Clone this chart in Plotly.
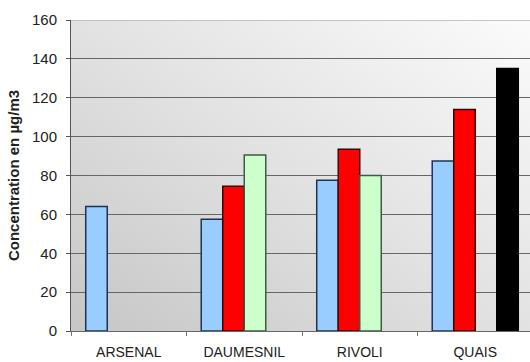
import base64
import plotly.graph_objects as go

# Sites and measured concentrations (µg/m3), one series per bar colour
sites = ["ARSENAL", "DAUMESNIL", "RIVOLI", "QUAIS"]
serie_bleue = [64, 57.5, 77.5, 87.5]
serie_rouge = [None, 74.5, 93.5, 114]
serie_verte = [None, 90.5, 80, None]
serie_noire = [None, None, None, 135]

y_ticks = [0, 20, 40, 60, 80, 100, 120, 140, 160]

series = [
    ("Série 1", serie_bleue, "#99ccff", "#1f3350"),
    ("Série 2", serie_rouge, "#ff0000", "#3a0000"),
    ("Série 3", serie_verte, "#ccffcc", "#3f5a45"),
    ("Série 4", serie_noire, "#000000", "#000000"),
]

fig = go.Figure()
for name, vals, fill, edge in series:
    fig.add_trace(go.Bar(
        x=sites, y=vals, name=name,
        marker=dict(color=fill, line=dict(color=edge, width=1.5)),
        showlegend=False,
    ))

# Diagonal grey-to-white wash behind the plotting area
svg = (
    '<svg xmlns="http://www.w3.org/2000/svg" width="400" height="300" '
    'viewBox="0 0 400 300" preserveAspectRatio="none">'
    '<defs><linearGradient id="g" x1="0" y1="1" x2="1" y2="0">'
    '<stop offset="0" stop-color="#c6c6c6"/>'
    '<stop offset="0.5" stop-color="#e2e2e2"/>'
    '<stop offset="1" stop-color="#fbfbfb"/>'
    '</linearGradient></defs>'
    '<rect width="400" height="300" fill="url(#g)"/></svg>'
)
bg_uri = "data:image/svg+xml;base64," + base64.b64encode(svg.encode()).decode()

fig.update_layout(
    width=530, height=362,
    margin=dict(l=71, r=0, t=20, b=31),
    paper_bgcolor="white",
    plot_bgcolor="#e2e2e2",
    barmode="group",
    bargap=0.255,
    bargroupgap=0,
    font=dict(family="Liberation Sans, Arial, sans-serif", color="#222222"),
    images=[dict(
        source=bg_uri, xref="paper", yref="paper", x=0, y=1,
        sizex=1, sizey=1, sizing="stretch", layer="below",
        xanchor="left", yanchor="top",
    )],
    xaxis=dict(
        range=[-0.5, 3.474],
        automargin=False,
        tickson="boundaries",
        ticks="outside", ticklen=4, tickcolor="#777777",
        showline=True, linecolor="#666666", linewidth=1,
        showgrid=False,
        tickfont=dict(size=14, color="#222222"),
        ticklabelstandoff=8,
    ),
    yaxis=dict(
        range=[0, 160],
        automargin=False,
        tickvals=y_ticks,
        ticks="outside", ticklen=4, tickcolor="#555555",
        showline=True, linecolor="#555555", linewidth=1,
        showgrid=True, gridcolor="#666666", gridwidth=1,
        zeroline=False,
        tickfont=dict(size=15, color="#222222"),
        ticklabelstandoff=6,
        title=dict(text="<b>Concentration en µg/m3</b>",
                   font=dict(size=15, color="#222222"), standoff=8),
    ),
    shapes=[dict(
        type="line", xref="paper", yref="y", x0=0, x1=1, y0=160, y1=160,
        line=dict(color="#b4b4b4", width=1.5), layer="above",
    )],
)

fig.write_html("out.html")
